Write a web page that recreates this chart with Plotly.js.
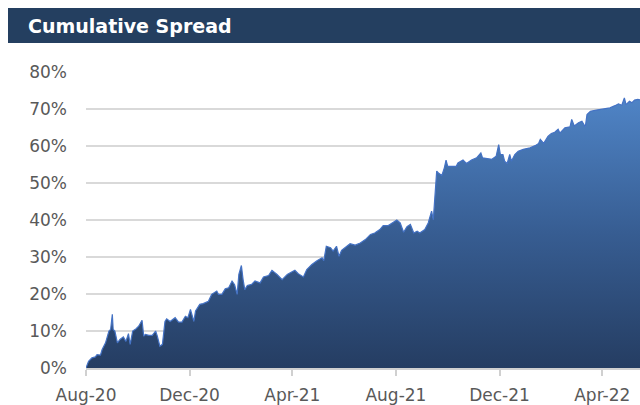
<!DOCTYPE html>
<html>
<head>
<meta charset="utf-8">
<script src="https://cdn.plot.ly/plotly-3.0.1.min.js"></script>
<style>html,body{margin:0;padding:0;background:#fff}#chart{width:640px;height:405px}</style>
</head>
<body>
<div id="chart"></div>
<script>
const chartTitle = "Cumulative Spread";
const dates = [
"2020-08-01","2020-08-04","2020-08-08","2020-08-12","2020-08-14","2020-08-18","2020-08-20","2020-08-24","2020-08-28","2020-08-30",
"2020-09-01","2020-09-02","2020-09-04","2020-09-07","2020-09-10","2020-09-14","2020-09-17","2020-09-20","2020-09-22","2020-09-25",
"2020-09-29","2020-10-02","2020-10-06","2020-10-08","2020-10-10","2020-10-14","2020-10-18","2020-10-22","2020-10-24","2020-10-27",
"2020-10-30","2020-11-02","2020-11-04","2020-11-08","2020-11-14","2020-11-18","2020-11-22","2020-11-26","2020-11-29","2020-12-02",
"2020-12-06","2020-12-08","2020-12-13","2020-12-17","2020-12-23","2020-12-27","2021-01-02","2021-01-04","2021-01-08","2021-01-12",
"2021-01-16","2021-01-20","2021-01-23","2021-01-26","2021-01-28","2021-01-31","2021-02-02","2021-02-04","2021-02-07","2021-02-12",
"2021-02-16","2021-02-22","2021-02-26","2021-03-04","2021-03-08","2021-03-14","2021-03-20","2021-03-26","2021-03-29","2021-04-04",
"2021-04-08","2021-04-14","2021-04-18","2021-04-24","2021-04-30","2021-05-06","2021-05-08","2021-05-11","2021-05-16","2021-05-19",
"2021-05-23","2021-05-26","2021-05-29","2021-06-04","2021-06-08","2021-06-14","2021-06-20","2021-06-26","2021-07-02","2021-07-07",
"2021-07-13","2021-07-17","2021-07-23","2021-07-29","2021-08-02","2021-08-06","2021-08-10","2021-08-14","2021-08-18","2021-08-22",
"2021-08-26","2021-08-29","2021-09-04","2021-09-08","2021-09-12","2021-09-14","2021-09-16","2021-09-18","2021-09-20","2021-09-24",
"2021-09-27","2021-09-29","2021-10-01","2021-10-06","2021-10-11","2021-10-13","2021-10-19","2021-10-23","2021-10-29","2021-11-04",
"2021-11-09","2021-11-11","2021-11-16","2021-11-22","2021-11-27","2021-11-30","2021-12-02","2021-12-05","2021-12-07","2021-12-10",
"2021-12-13","2021-12-15","2021-12-19","2021-12-23","2021-12-29","2022-01-06","2022-01-12","2022-01-16","2022-01-18","2022-01-22",
"2022-01-27","2022-01-31","2022-02-04","2022-02-08","2022-02-10","2022-02-16","2022-02-22","2022-02-24","2022-02-27","2022-03-04",
"2022-03-08","2022-03-12","2022-03-14","2022-03-18","2022-03-25","2022-04-02","2022-04-06","2022-04-10","2022-04-16","2022-04-20",
"2022-04-24","2022-04-27","2022-04-29","2022-05-03","2022-05-06","2022-05-09","2022-05-13","2022-05-18"
];
const spreadPct = [
0,1.8,2.75,3.0,3.6,3.5,5.0,6.8,10.0,10.4,
14.5,10.4,10.0,6.8,7.7,8.4,7.2,9.3,6.4,10.0,
10.6,11.3,12.9,8.6,9.1,8.8,8.8,10.0,8.6,5.9,
6.4,12.6,13.3,12.6,13.6,12.4,12.4,14.0,13.6,15.8,
12.6,15.4,17.2,17.4,18.0,19.9,20.8,19.9,19.9,21.4,
21.7,23.5,22.5,19.9,25.3,27.7,23.9,21.2,22.3,22.6,
23.5,23.0,24.6,25.0,26.4,25.3,23.9,25.3,25.7,26.4,
25.5,24.6,26.6,28.0,29.0,29.8,29.0,32.9,32.5,31.6,
32.9,30.2,31.8,32.9,33.6,33.2,33.8,34.7,36.1,36.5,
37.4,38.5,38.5,39.4,40.0,39.2,36.7,38.2,38.8,36.5,
37.0,36.5,37.4,39.2,42.4,40.1,47.4,53.2,52.7,52.0,
54.1,56.2,54.5,54.5,54.5,55.4,56.2,55.3,56.2,56.8,
58.1,56.8,56.6,56.4,57.2,60.4,57.7,57.7,55.9,55.3,
57.7,55.9,57.7,58.6,59.1,59.5,60.1,60.7,61.8,60.7,
62.6,63.4,63.7,64.5,63.5,64.9,65.2,67.2,65.4,66.3,
66.7,65.2,68.5,69.4,69.7,69.9,70.0,70.3,70.9,71.4,
71.0,73.0,71.2,72.1,71.7,72.4,72.6,72.4
];
const tickDates = ["2020-08-01","2020-12-01","2021-04-01","2021-08-01","2021-12-01","2022-04-01"];
const tickLabels = ["Aug-20","Dec-20","Apr-21","Aug-21","Dec-21","Apr-22"];
const yTicks = [0,10,20,30,40,50,60,70,80];
const yTickLabels = ["0%","10%","20%","30%","40%","50%","60%","70%","80%"];

const W = 640, H = 405;
const M = {l: 86, r: 0, t: 72, b: 37};
const pw = W - M.l - M.r, ph = H - M.t - M.b;
const px = x => (x - M.l) / pw;
const py = y => (H - M.b - y) / ph;

const trace = {
  x: dates, y: spreadPct, type: 'scatter', mode: 'lines',
  line: {color: '#4472c4', width: 1.2},
  fill: 'tozeroy',
  fillgradient: {type: 'vertical', start: 0, stop: 73,
    colorscale: [[0, '#253d62'], [0.5, '#375d92'], [1, '#4f84c6']]},
  hoverinfo: 'skip'
};

const font = 'DejaVu Sans, Arial, sans-serif';
const layout = {
  width: W, height: H,
  margin: M,
  paper_bgcolor: '#ffffff', plot_bgcolor: '#ffffff',
  showlegend: false,
  font: {family: font, color: '#595959', size: 17},
  xaxis: {
    type: 'date',
    range: ['2020-08-01', '2022-05-15 10:00'],
    tickmode: 'array', tickvals: tickDates, ticktext: tickLabels,
    showgrid: false, zeroline: false,
    showline: true, linecolor: '#d0d0d0', linewidth: 2,
    ticks: 'outside', ticklen: 6, tickcolor: '#d0d0d0', tickwidth: 2,
    ticklabelstandoff: 5,
    tickfont: {family: font, size: 17, color: '#595959'},
    fixedrange: true
  },
  yaxis: {
    range: [0, 80],
    tickmode: 'array', tickvals: yTicks, ticktext: yTickLabels,
    showgrid: true, gridcolor: '#d9d9d9', gridwidth: 2,
    zeroline: false, showline: false, ticks: '',
    ticklabelstandoff: 18,
    tickfont: {family: font, size: 17, color: '#595959'},
    fixedrange: true
  },
  shapes: [{
    type: 'rect', xref: 'paper', yref: 'paper',
    x0: px(8), x1: px(640), y0: py(43), y1: py(8),
    fillcolor: '#243f60', line: {width: 0}, layer: 'above'
  }],
  annotations: [{
    xref: 'paper', yref: 'paper',
    x: px(26), y: py(25.5), xanchor: 'left', yanchor: 'middle',
    text: '<b>' + chartTitle + '</b>', showarrow: false,
    font: {family: font, size: 19, color: '#ffffff'}
  }]
};

Plotly.newPlot('chart', [trace], layout, {displayModeBar: false, staticPlot: true});
</script>
</body>
</html>
